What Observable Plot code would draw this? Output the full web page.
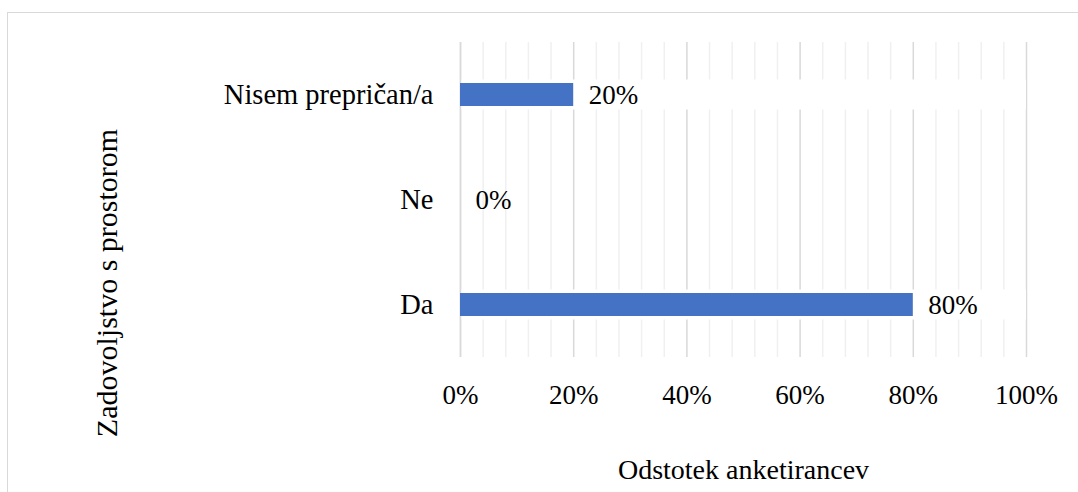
<!DOCTYPE html>
<html>
<head>
<meta charset="utf-8">
<script src="https://cdn.jsdelivr.net/npm/d3@7"></script>
<script src="https://cdn.jsdelivr.net/npm/@observablehq/plot@0.6"></script>
<style>
  html, body { margin: 0; padding: 0; background: #fff; }
  #wrap { position: relative; width: 1078px; height: 492px; overflow: hidden; }
  #frame { position: absolute; left: 7px; top: 12px; width: 1100px; height: 500px;
           border-left: 1px solid #d9d9d9; border-top: 1px solid #d9d9d9; box-sizing: border-box; }
  #chart { position: absolute; left: 0; top: 0; }
  #chart svg, #chart svg text { font-family: "Liberation Serif", "Times New Roman", serif !important; }
</style>
</head>
<body>
<div id="wrap"><div id="frame"></div><div id="chart"></div></div>
<script>
const categories = ["Nisem prepričan/a", "Ne", "Da"];
const values = [20, 0, 80];
const majorTicks = [0, 20, 40, 60, 80, 100];
const minorTicks = [4, 8, 12, 16, 24, 28, 32, 36, 44, 48, 52, 56, 64, 68, 72, 76, 84, 88, 92, 96];
const xTitle = "Odstotek anketirancev";
const yTitle = "Zadovoljstvo s prostorom";

const data = categories.map((c, i) => ({category: c, value: values[i]}));
const font = "Liberation Serif";
const fs = 27;

const chart = Plot.plot({
  width: 1078,
  height: 492,
  marginLeft: 460,
  marginRight: 52,
  marginTop: 42,
  marginBottom: 135,
  style: {fontFamily: font, fontSize: fs + "px", color: "#000", background: "transparent"},
  x: {domain: [0, 100]},
  y: {domain: categories, padding: 0},
  marks: [
    Plot.ruleX(minorTicks, {stroke: "#f0f0f0", strokeWidth: 1.5}),
    Plot.ruleX(majorTicks, {stroke: "#d9d9d9", strokeWidth: 1.5}),
    Plot.barX(data.filter(d => d.value > 0), {x1: 0, x2: 100, y: "category", fill: "white", insetTop: 37.5, insetBottom: 37.5}),
    Plot.ruleX([0], {stroke: "#d9d9d9", strokeWidth: 1.5}),
    Plot.barX(data, {x: "value", y: "category", fill: "#4472c4", insetTop: 41, insetBottom: 41}),
    Plot.text(data, {x: "value", y: "category", text: d => d.value + "%", textAnchor: "start", dx: 15, fontSize: 27, fontFamily: font, fill: "#000"}),
    Plot.axisX(majorTicks, {tickSize: 0, tickPadding: 27, tickFormat: d => d + "%", fontSize: 27, fontFamily: font, label: null, fill: "#000"}),
    Plot.axisY({tickSize: 0, tickPadding: 27, fontSize: 28.5, fontFamily: font, label: null, fill: "#000"}),
    Plot.text([xTitle], {frameAnchor: "bottom", text: d => d, dy: 113, lineAnchor: "middle", textAnchor: "middle", fontSize: 28, fontFamily: font, fill: "#000"}),
    Plot.text([yTitle], {frameAnchor: "left", text: d => d, rotate: -90, dx: -353, dy: 83, lineAnchor: "middle", textAnchor: "middle", fontSize: 30, fontFamily: font, fill: "#000"})
  ]
});
document.getElementById("chart").appendChild(chart);
</script>
</body>
</html>
